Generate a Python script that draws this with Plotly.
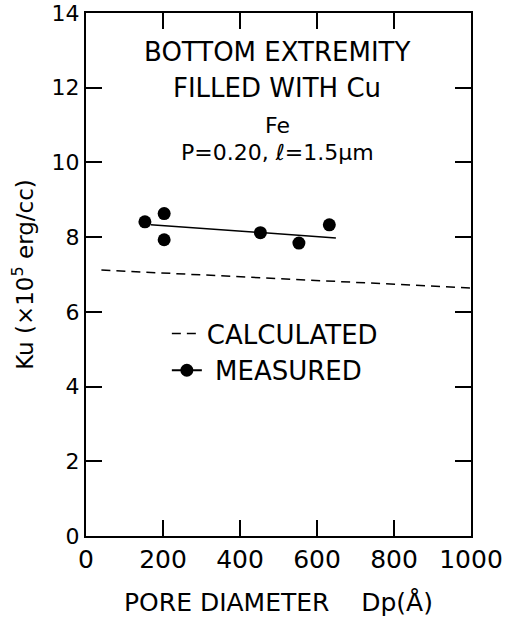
import plotly.graph_objects as go

# Data
meas_dp = [153, 203, 203, 453, 553, 632]
meas_ku = [8.41, 8.63, 7.93, 8.12, 7.84, 8.33]
fit_dp = [168, 649]
fit_ku = [8.33, 7.98]
calc_dp = [40, 1000]
calc_ku = [7.12, 6.64]
x_ticks = [0, 200, 400, 600, 800, 1000]
y_ticks = [0, 2, 4, 6, 8, 10, 12, 14]

FONT = "DejaVu Sans"
fig = go.Figure()
fig.add_trace(go.Scatter(x=calc_dp, y=calc_ku, mode="lines", name="CALCULATED",
                         line=dict(color="black", width=1.5, dash="9px,6px")))
fig.add_trace(go.Scatter(x=fit_dp, y=fit_ku, mode="lines", showlegend=False,
                         line=dict(color="black", width=1.5)))
fig.add_trace(go.Scatter(x=meas_dp, y=meas_ku, mode="markers", showlegend=False,
                         marker=dict(color="black", size=13)))
fig.add_trace(go.Scatter(x=[None], y=[None], mode="lines+markers", name=" MEASURED",
                         line=dict(color="black", width=2),
                         marker=dict(color="black", size=13)))

fig.update_layout(
    template="none",
    width=505, height=619,
    margin=dict(l=86, r=34, t=13, b=83),
    paper_bgcolor="white", plot_bgcolor="white",
    font=dict(family=FONT, color="black"),
    showlegend=True,
    legend=dict(x=0.21, y=0.432, xanchor="left", yanchor="top",
                font=dict(size=26, family=FONT), bgcolor="rgba(0,0,0,0)",
                itemwidth=30, tracegroupgap=0),
    xaxis=dict(range=[0, 1000], tickvals=x_ticks, ticks="inside", ticklen=16,
               tickwidth=1.5, tickcolor="black", showline=True, linecolor="black",
               linewidth=2, mirror="ticks", showgrid=False, zeroline=False,
               automargin=False,
               tickfont=dict(size=25, family=FONT),
               title=dict(text="PORE DIAMETER    Dp(Å)", font=dict(size=25, family=FONT),
                          standoff=20)),
    yaxis=dict(range=[0, 14], tickvals=y_ticks, ticks="inside", ticklen=16,
               tickwidth=1.5, tickcolor="black", showline=True, linecolor="black",
               linewidth=2, mirror="ticks", showgrid=False, zeroline=False,
               automargin=False,
               tickfont=dict(size=22, family=FONT),
               title=dict(text="Ku (×10<sup>5</sup> erg/cc)", font=dict(size=23, family=FONT),
                          standoff=12)),
)

notes = [("BOTTOM EXTREMITY", 52, 26), ("FILLED WITH Cu", 88, 26),
         ("Fe", 126, 22), ("P=0.20, ℓ=1.5μm", 153, 22)]
for txt, ypix, fs in notes:
    fig.add_annotation(text=txt, xref="paper", yref="paper",
                       x=(277 - 86) / 385, y=(536 - ypix) / 523,
                       showarrow=False, xanchor="center", yanchor="middle",
                       font=dict(size=fs, family=FONT))

fig.write_html("out.html")
